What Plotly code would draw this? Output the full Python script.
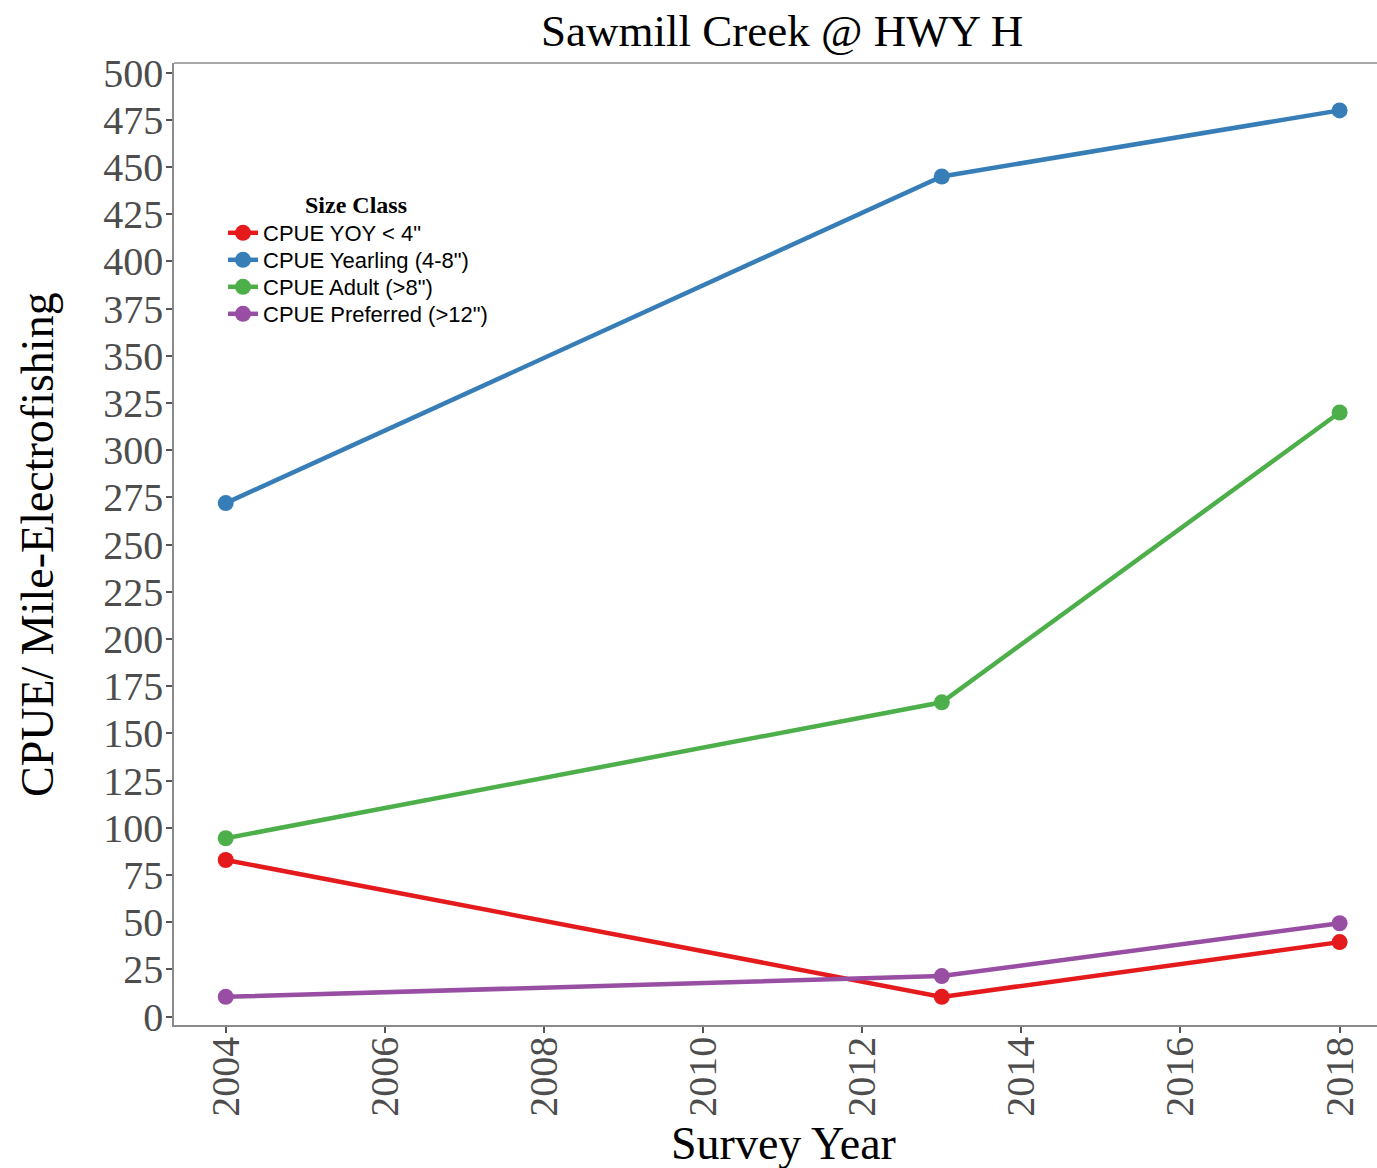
import plotly.graph_objects as go

years = [2004, 2013, 2018]
series_names = ['CPUE YOY < 4"', 'CPUE Yearling (4-8")', 'CPUE Adult (>8")', 'CPUE Preferred (>12")']
yoy = [83, 10.5, 39.5]
yearling = [272, 445, 480]
adult = [94.5, 166.5, 320]
preferred = [10.5, 21.5, 49.5]
colors = ["#E41A1C", "#377EB8", "#4DAF4A", "#984EA3"]
y_ticks = list(range(0, 501, 25))
x_ticks = list(range(2004, 2019, 2))

W, H = 1377, 1168
PL, PT, PB, PR = 174, 63, 1025, 1377  # plot area in page pixels
L, T, B, R = PL, PT, H - PB, W - PR
PW, PH = PR - PL, PB - PT


def px(xp):
    return (xp - PL) / PW


def py(yp):
    return (PB - yp) / PH


serif = "Liberation Serif, Times New Roman, serif"
sans = "Liberation Sans, Arial, sans-serif"

legend_ids = ["legend", "legend2", "legend3", "legend4"]
legend_rows = [233, 260, 287, 314]

fig = go.Figure()
for name, vals, col, lid in zip(series_names, [yoy, yearling, adult, preferred], colors, legend_ids):
    fig.add_trace(go.Scatter(
        x=years, y=vals, name=name, mode="lines+markers",
        line=dict(color=col, width=4.5),
        marker=dict(color=col, size=16),
        legend=lid,
    ))

legend_layout = {}
for lid, row in zip(legend_ids, legend_rows):
    legend_layout[lid] = dict(
        x=px(223), y=py(row), xanchor="left", yanchor="middle",
        bgcolor="rgba(0,0,0,0)", itemwidth=30,
        font=dict(family=sans, size=22, color="black"),
    )

fig.update_layout(
    width=W, height=H,
    margin=dict(l=L, r=R, t=T, b=B, pad=0),
    paper_bgcolor="white", plot_bgcolor="white",
    xaxis=dict(range=[2003.35, 2018.47], tickvals=x_ticks, tickangle=-90,
               showgrid=False, zeroline=False, showline=True, linecolor="#8a8a8a", linewidth=1.5,
               ticks="outside", ticklen=6, tickwidth=1.5, tickcolor="#555555",
               ticklabelstandoff=-12,
               tickfont=dict(family=serif, size=40, color="#4d4d4d")),
    yaxis=dict(range=[-4.4, 505.1], tickvals=y_ticks,
               showgrid=False, zeroline=False, showline=True, linecolor="#8a8a8a", linewidth=1.5,
               ticks="outside", ticklen=6, tickwidth=1.5, tickcolor="#555555",
               ticklabelstandoff=-5,
               tickfont=dict(family=serif, size=40, color="#4d4d4d")),
    showlegend=True,
    **legend_layout,
)

fig.add_shape(type="line", xref="paper", yref="paper", x0=0, x1=1, y0=1, y1=1,
              line=dict(color="#8a8a8a", width=1.5))

fig.add_annotation(text="Sawmill Creek @ HWY H", xref="paper", yref="paper",
                   x=px(782), y=py(31), xanchor="center", yanchor="middle", showarrow=False,
                   font=dict(family=serif, size=45, color="black"))
fig.add_annotation(text="<b>Size Class</b>", xref="paper", yref="paper",
                   x=px(356), y=py(205), xanchor="center", yanchor="middle", showarrow=False,
                   font=dict(family=serif, size=24, color="black"))
fig.add_annotation(text="CPUE/ Mile-Electrofishing", xref="paper", yref="paper",
                   x=px(37), y=py(545),
                   xanchor="center", yanchor="middle", textangle=-90, showarrow=False,
                   font=dict(family=serif, size=46, color="black"))
fig.add_annotation(text="Survey Year", xref="paper", yref="paper",
                   x=px(783), y=py(1143),
                   xanchor="center", yanchor="middle", showarrow=False,
                   font=dict(family=serif, size=46, color="black"))

fig.write_html("out.html",
               config={"displayModeBar": False},
               post_script="document.body.style.margin='0';document.body.style.overflow='hidden';")
